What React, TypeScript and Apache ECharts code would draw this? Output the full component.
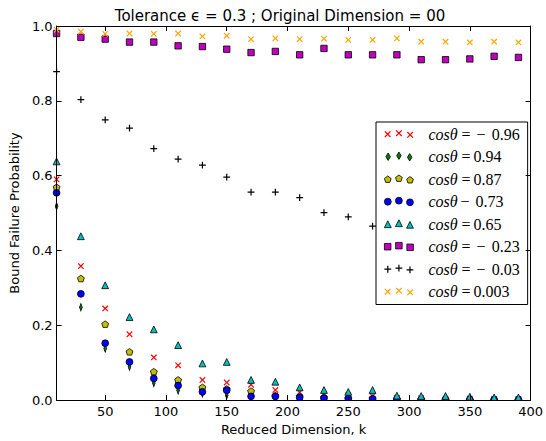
import React, { useEffect, useRef } from "react";
import * as echarts from "echarts";

// Reduced dimensions k at which every bound was evaluated
const K_VALUES = [10, 30, 50, 70, 90, 110, 130, 150, 170, 190, 210, 230, 250, 270, 290, 310, 330, 350, 370, 390];

// Failure probability per cosθ value (null = not recorded)
const COS_NEG_096 = [0.59, 0.358, 0.245, 0.176, 0.114, 0.093, 0.054, 0.047, 0.041, 0.027, 0.021, 0.016, 0.013, 0.011, 0.006, 0.005, 0.004, 0.004, 0.003, 0.003];
const COS_094 = [0.518, 0.248, 0.138, 0.089, 0.046, 0.026, 0.018, 0.013, 0.008, 0.005, 0.004, 0.003, 0.002, 0.002, 0.001, 0.001, 0.001, 0.0, 0.0, 0.0];
const COS_087 = [0.569, 0.325, 0.203, 0.129, 0.076, 0.054, 0.034, 0.03, 0.024, 0.012, 0.01, 0.008, 0.006, 0.005, 0.003, 0.002, 0.002, 0.001, 0.001, 0.001];
const COS_NEG_073 = [0.554, 0.284, 0.152, 0.102, 0.058, 0.039, 0.022, 0.026, 0.01, 0.01, 0.007, 0.005, 0.004, 0.003, 0.002, 0.001, 0.001, 0.001, 0.001, 0.001];
const COS_065 = [0.638, 0.438, 0.307, 0.222, 0.189, 0.147, 0.098, 0.102, 0.054, 0.049, 0.034, 0.027, 0.022, 0.027, 0.012, 0.011, 0.011, 0.009, 0.007, 0.007];
const COS_NEG_023 = [0.98, 0.97, 0.965, 0.957, 0.957, 0.947, 0.945, 0.938, 0.929, 0.932, 0.923, 0.94, 0.923, 0.923, 0.923, 0.91, 0.91, 0.912, 0.919, 0.916];
const COS_NEG_003 = [0.878, 0.803, 0.749, 0.727, 0.672, 0.644, 0.628, 0.596, 0.556, 0.556, 0.541, 0.501, 0.49, 0.465, null, null, null, null, null, null];
const COS_0003 = [0.99, 0.985, 0.979, 0.98, 0.979, 0.98, 0.972, 0.974, 0.965, 0.967, 0.965, 0.966, 0.963, 0.963, 0.967, 0.958, 0.958, 0.956, 0.958, 0.956];

const X_TICKS = [50, 100, 150, 200, 250, 300, 350, 400];
const Y_TICK_STEP = 0.2;

const TITLE = "Tolerance \u03f5 = 0.3 ; Original Dimension = 00";
const X_NAME = "Reduced Dimension, k";
const Y_NAME = "Bound Failure Probability";

type Marker = "x" | "d" | "p" | "o" | "^" | "s" | "+";

const SERIES_DEFS: { name: string; values: (number | null)[]; color: string; marker: Marker }[] = [
  { name: "cosθ = −0.96", values: COS_NEG_096, color: "#ff0000", marker: "x" },
  { name: "cosθ = 0.94", values: COS_094, color: "#007f00", marker: "d" },
  { name: "cosθ = 0.87", values: COS_087, color: "#bfbf00", marker: "p" },
  { name: "cosθ − 0.73", values: COS_NEG_073, color: "#0000ff", marker: "o" },
  { name: "cosθ = 0.65", values: COS_065, color: "#00bfbf", marker: "^" },
  { name: "cosθ = −0.23", values: COS_NEG_023, color: "#bf00bf", marker: "s" },
  { name: "cosθ = −0.03", values: COS_NEG_003, color: "#000000", marker: "+" },
  { name: "cosθ = 0.003", values: COS_0003, color: "#ffa500", marker: "x" },
];

// ---- marker geometry (pixel units, centred on cx, cy) ----
type Pt = [number, number];
const f = (n: number) => n.toFixed(2);
const poly = (pts: Pt[]) => "M" + pts.map((p) => f(p[0]) + "," + f(p[1])).join("L") + "Z";

function plusPts(cx: number, cy: number, h: number, w: number, rot: boolean): Pt[] {
  const base: Pt[] = [
    [-w, -h], [w, -h], [w, -w], [h, -w], [h, w], [w, w],
    [w, h], [-w, h], [-w, w], [-h, w], [-h, -w], [-w, -w],
  ];
  const s = Math.SQRT1_2;
  return base.map(([x, y]) => (rot ? [cx + (x - y) * s, cy + (x + y) * s] : [cx + x, cy + y]) as Pt);
}

function markerPath(m: Marker, cx: number, cy: number): string {
  switch (m) {
    case "s":
      return poly([[cx - 3.2, cy - 3.2], [cx + 3.2, cy - 3.2], [cx + 3.2, cy + 3.2], [cx - 3.2, cy + 3.2]]);
    case "o": {
      const r = 3.4;
      return `M${f(cx - r)},${f(cy)}A${r},${r},0,1,1,${f(cx + r)},${f(cy)}A${r},${r},0,1,1,${f(cx - r)},${f(cy)}Z`;
    }
    case "^":
      return poly([[cx, cy - 3.4], [cx + 3.4, cy + 3.4], [cx - 3.4, cy + 3.4]]);
    case "d":
      return poly([[cx, cy - 3.8], [cx + 2.3, cy], [cx, cy + 3.8], [cx - 2.3, cy]]);
    case "p": {
      const pts: Pt[] = [];
      for (let i = 0; i < 5; i++) {
        const a = (-90 + i * 72) * (Math.PI / 180);
        pts.push([cx + 3.5 * Math.cos(a), cy + 3.5 * Math.sin(a)]);
      }
      return poly(pts);
    }
    case "+":
      return poly(plusPts(cx, cy, 3.4, 0.6, false));
    case "x":
      return poly(plusPts(cx, cy, 3.9, 0.6, true));
  }
}

const SYMBOL_SIZE: Record<Marker, number | number[]> = {
  s: 6.4, o: 6.8, "^": 6.8, d: [4.6, 7.6], p: 6.9, "+": 6.8, x: 6.3,
};

// three markers side by side, as in a scatter legend handle
const LEGEND_OFFSETS = [0, -1, 0.6];
function legendIcon(m: Marker): string {
  return "path://" + LEGEND_OFFSETS.map((dy, i) => markerPath(m, 3.5 + i * 11, 4 + dy)).join("");
}

const FILLED = (m: Marker) => m !== "x" && m !== "+";

// split "cosθ = −0.96" into italic symbol, relation, sign and number
function legendLabel(name: string): string {
  const m = /^(cosθ)\s*(=)?\s*(−)?\s*(.*)$/.exec(name);
  if (!m) return name;
  const [, sym, eq, minus, num] = m;
  let out = `{i|${sym}}`;
  if (eq) out += `{eq|=}`;
  if (minus) out += eq ? `{mi|−}` : `{mb|−}`;
  out += minus ? `{nm|${num}}` : `{np|${num}}`;
  return out;
}

export default function App() {
  const ref = useRef<HTMLDivElement>(null);

  useEffect(() => {
    if (!ref.current) return;
    const chart = echarts.init(ref.current, undefined, { renderer: "svg" });

    const tickFont = { color: "#000", fontFamily: "DejaVu Sans", fontSize: 13 };
    const axisLine = { show: true, onZero: false, lineStyle: { color: "#000", width: 1 } };
    const serif = { fontFamily: "Liberation Serif", fontSize: 16, lineHeight: 15, color: "#000" };

    const series = SERIES_DEFS.map((d) => ({
      type: "scatter",
      name: d.name,
      xAxisIndex: 0,
      yAxisIndex: 0,
      symbol: "path://" + markerPath(d.marker, 0, 0),
      symbolSize: SYMBOL_SIZE[d.marker],
      symbolKeepAspect: true,
      itemStyle: FILLED(d.marker)
        ? { color: d.color, borderColor: "#000", borderWidth: 0.8, opacity: 1 }
        : { color: d.color, borderWidth: 0, opacity: 1 },
      emphasis: { disabled: true },
      data: K_VALUES.map((k, i) => [k, d.values[i]]).filter((p) => p[1] !== null),
    }));

    const option: any = {
      animation: false,
      grid: { left: 51, right: 11, top: 26, bottom: 40 },
      xAxis: [
        {
          type: "value",
          min: 10,
          max: 400,
          position: "bottom",
          z: 10,
          axisLine,
          axisTick: { show: true, inside: true, length: 5, customValues: X_TICKS, lineStyle: { color: "#000" } },
          axisLabel: { customValues: X_TICKS, margin: 5, ...tickFont },
          splitLine: { show: false },
          name: X_NAME,
          nameLocation: "middle",
          nameGap: 21,
          nameTextStyle: { ...tickFont },
        },
        {
          type: "value",
          min: 10,
          max: 400,
          position: "top",
          z: 10,
          axisLine,
          axisTick: { show: true, inside: true, length: 5, customValues: X_TICKS, lineStyle: { color: "#000" } },
          axisLabel: { show: false },
          splitLine: { show: false },
        },
      ],
      yAxis: [
        {
          type: "value",
          min: 0,
          max: 1,
          interval: Y_TICK_STEP,
          position: "left",
          z: 10,
          axisLine,
          axisTick: { show: true, inside: true, length: 5, lineStyle: { color: "#000" } },
          axisLabel: { margin: 4, formatter: (v: number) => v.toFixed(1), ...tickFont },
          splitLine: { show: false },
          name: Y_NAME,
          nameLocation: "middle",
          nameGap: 32,
          nameTextStyle: { ...tickFont },
        },
        {
          type: "value",
          min: 0,
          max: 1,
          interval: Y_TICK_STEP,
          position: "right",
          z: 10,
          axisLine,
          axisTick: { show: true, inside: true, length: 5, lineStyle: { color: "#000" } },
          axisLabel: { show: false },
          splitLine: { show: false },
        },
      ],
      legend: {
        orient: "vertical",
        left: 376,
        top: 122,
        padding: [4, 8, 5, 8],
        itemGap: 6.5,
        itemWidth: 29,
        itemHeight: 9,
        backgroundColor: "#fff",
        borderColor: "#000",
        borderWidth: 1,
        borderRadius: 0,
        selectedMode: false,
        data: SERIES_DEFS.map((d) => ({
          name: d.name,
          icon: legendIcon(d.marker),
          itemStyle: FILLED(d.marker)
            ? { color: d.color, borderColor: "#000", borderWidth: 0.8 }
            : { color: d.color, borderWidth: 0 },
        })),
        formatter: legendLabel,
        textStyle: {
          rich: {
            i: { ...serif, fontStyle: "italic", padding: [0, 0, 0, 10] },
            eq: { ...serif, padding: [0, 0, 0, 4] },
            mi: { ...serif, padding: [0, 0, 0, 6] },
            mb: { ...serif, padding: [0, 0, 0, 3] },
            nm: { ...serif, padding: [0, 0, 0, 6] },
            np: { ...serif, padding: [0, 0, 0, 3] },
          },
        },
      },
      graphic: [
        // margins mask the parts of markers that fall outside the plot frame
        { type: "rect", z: 5, shape: { x: 0, y: 0, width: 51, height: 441 }, style: { fill: "#fff" }, silent: true },
        { type: "rect", z: 5, shape: { x: 0, y: 0, width: 546, height: 26 }, style: { fill: "#fff" }, silent: true },
        { type: "rect", z: 5, shape: { x: 0, y: 401, width: 546, height: 40 }, style: { fill: "#fff" }, silent: true },
        { type: "rect", z: 5, shape: { x: 535, y: 0, width: 11, height: 441 }, style: { fill: "#fff" }, silent: true },
        {
          type: "text",
          z: 20,
          x: 280,
          y: 16,
          style: {
            text: TITLE,
            fill: "#000",
            font: "15px 'DejaVu Sans'",
            textAlign: "center",
            textVerticalAlign: "middle",
          },
        },
      ],
      series,
    };

    chart.setOption(option);
    return () => chart.dispose();
  }, []);

  return (
    <div
      ref={ref}
      style={{ position: "fixed", left: 0, top: 0, width: 546, height: 441, background: "#fff" }}
    />
  );
}
